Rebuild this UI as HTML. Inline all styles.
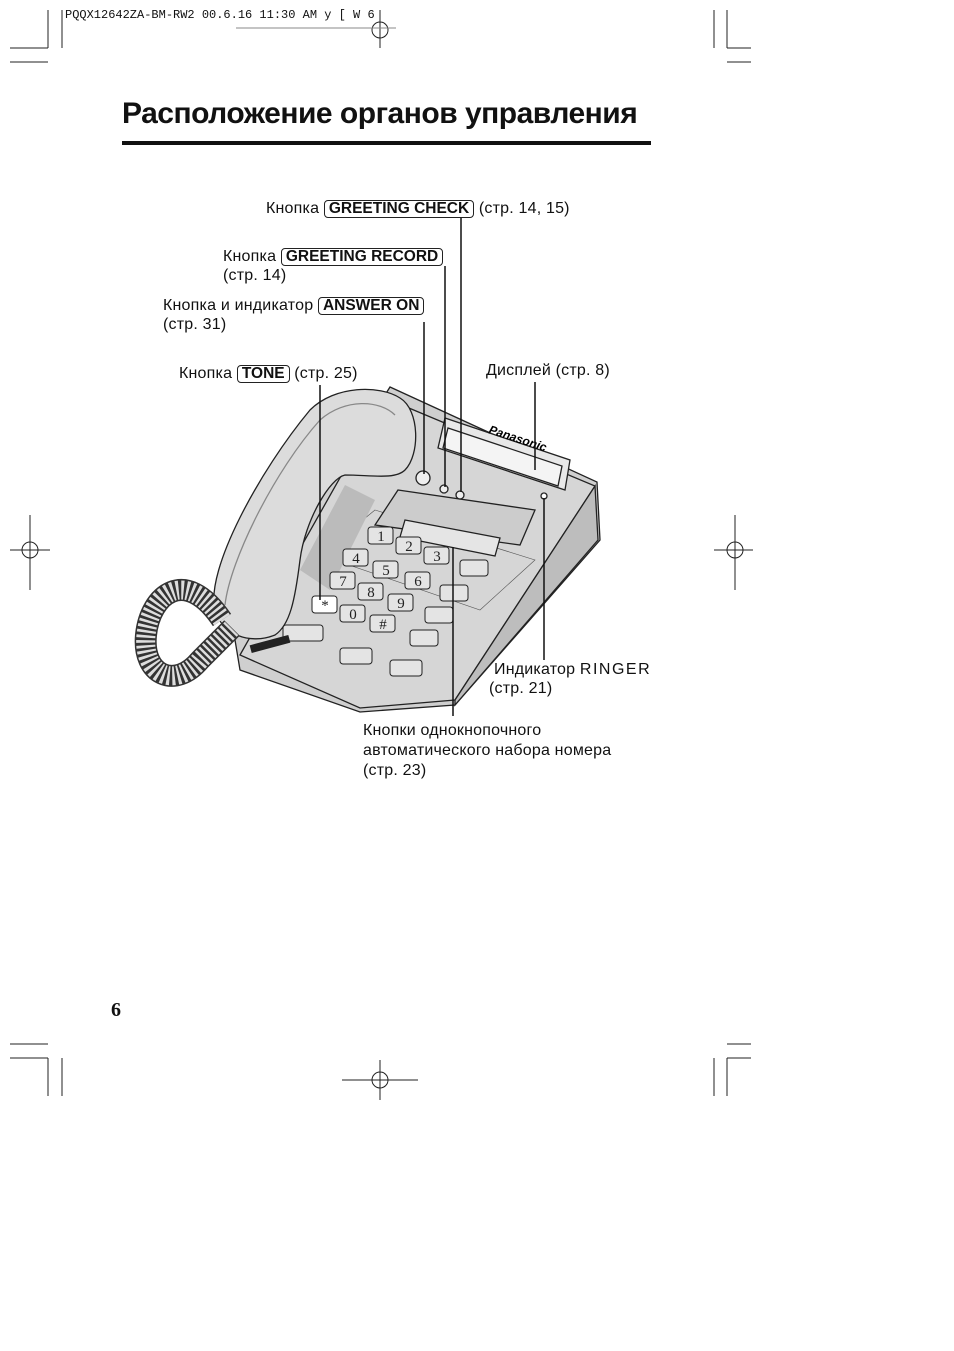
<!DOCTYPE html>
<html><head><meta charset="utf-8"><style>
body{margin:0;background:#fff;}
#p{position:relative;width:954px;height:1351px;overflow:hidden;font-family:"Liberation Sans",sans-serif;color:#111;}
.t{position:absolute;font-size:16px;letter-spacing:0.2px;white-space:nowrap;line-height:19px;}
.b{display:inline-block;border:1px solid #222;border-radius:4px;padding:0 4px;font-weight:bold;line-height:16px;font-size:15.5px;letter-spacing:0;}
</style></head><body><div id="p">
<svg width="954" height="1351" style="position:absolute;left:0;top:0" xmlns="http://www.w3.org/2000/svg">
<g stroke="#222" stroke-width="1" fill="none">
<line x1="48" y1="10" x2="48" y2="48"/><line x1="10" y1="48" x2="48" y2="48"/><line x1="10" y1="62" x2="48" y2="62"/><line x1="62" y1="10" x2="62" y2="48"/>
<line x1="714" y1="10" x2="714" y2="48"/><line x1="727" y1="10" x2="727" y2="48"/><line x1="727" y1="48" x2="751" y2="48"/><line x1="727" y1="62" x2="751" y2="62"/>
<line x1="48" y1="1058" x2="48" y2="1096"/><line x1="62" y1="1058" x2="62" y2="1096"/><line x1="10" y1="1044" x2="48" y2="1044"/><line x1="10" y1="1058" x2="48" y2="1058"/>
<line x1="714" y1="1058" x2="714" y2="1096"/><line x1="727" y1="1058" x2="727" y2="1096"/><line x1="727" y1="1044" x2="751" y2="1044"/><line x1="727" y1="1058" x2="751" y2="1058"/>
<circle cx="380" cy="30" r="8"/><line x1="380" y1="10" x2="380" y2="48"/><line x1="236" y1="28" x2="396" y2="28" stroke="#888"/>
<circle cx="30" cy="550" r="8"/><line x1="10" y1="550" x2="50" y2="550"/><line x1="30" y1="515" x2="30" y2="590"/>
<circle cx="735" cy="550" r="8"/><line x1="714" y1="550" x2="753" y2="550"/><line x1="735" y1="515" x2="735" y2="590"/>
<circle cx="380" cy="1080" r="8"/><line x1="342" y1="1080" x2="418" y2="1080"/><line x1="380" y1="1060" x2="380" y2="1100"/>
</g>
<rect x="122" y="141" width="529" height="4" fill="#111"/>
<g stroke="#222" stroke-width="1.3">
<path d="M240 670 L235 640 L385 395 L390 387 L597 482 L600 540 L455 705 L360 712 Z" fill="#cfcfcf"/>
<path d="M240 655 L385 398 L595 486 L455 700 L360 708 Z" fill="#d6d6d6"/>
<path d="M595 486 L598 540 L455 705 L455 700 Z" fill="#bdbdbd"/>
<path d="M445 418 L570 460 L565 490 L438 448 Z" fill="#e8e8e8"/>
<path d="M448 428 L562 466 L558 486 L443 448 Z" fill="#f4f4f4"/>
<path d="M375 510 L535 560 L480 610 L320 555 Z" fill="none" stroke="#555" stroke-width="0.6"/>
<path d="M398 490 L535 510 L520 545 L375 525 Z" fill="#ccc"/>
<path d="M405 520 L500 538 L495 556 L400 537 Z" fill="#e5e5e5"/>
<path d="M300 570 L345 485 L375 500 L330 590 Z" fill="#bbb" stroke="none"/>
<path d="M215 610 C205 570 260 470 310 410 C335 385 380 385 400 398 C420 410 420 455 405 470 C395 480 370 475 345 475 C330 478 305 520 300 560 C295 600 290 625 275 635 C250 645 222 635 215 610 Z" fill="#dcdcdc"/>
<path d="M225 605 C230 560 275 470 320 420 C345 398 380 400 395 415" fill="none" stroke="#888"/>
<path d="M222 620 C185 565 150 595 146 635 C142 675 175 690 200 660 C215 645 225 635 232 628" fill="none" stroke="#333" stroke-width="22"/>
<path d="M222 620 C185 565 150 595 146 635 C142 675 175 690 200 660 C215 645 225 635 232 628" fill="none" stroke="#ddd" stroke-width="19" stroke-dasharray="2.5 2.5"/>
<circle cx="423" cy="478" r="7" fill="#eee"/><circle cx="444" cy="489" r="4" fill="#eee"/><circle cx="460" cy="495" r="4" fill="#eee"/>
<circle cx="544" cy="496" r="3" fill="#fff"/>
</g>
<g stroke="#222" stroke-width="1" fill="#e4e4e4" font-family="Liberation Serif" font-size="15" text-anchor="middle">
<rect x="368" y="527" width="25" height="17" rx="3"/><text x="381" y="541" fill="#222" stroke="none">1</text>
<rect x="396" y="537" width="25" height="17" rx="3"/><text x="409" y="551" fill="#222" stroke="none">2</text>
<rect x="424" y="547" width="25" height="17" rx="3"/><text x="437" y="561" fill="#222" stroke="none">3</text>
<rect x="343" y="549" width="25" height="17" rx="3"/><text x="356" y="563" fill="#222" stroke="none">4</text>
<rect x="373" y="561" width="25" height="17" rx="3"/><text x="386" y="575" fill="#222" stroke="none">5</text>
<rect x="405" y="572" width="25" height="17" rx="3"/><text x="418" y="586" fill="#222" stroke="none">6</text>
<rect x="330" y="572" width="25" height="17" rx="3"/><text x="343" y="586" fill="#222" stroke="none">7</text>
<rect x="358" y="583" width="25" height="17" rx="3"/><text x="371" y="597" fill="#222" stroke="none">8</text>
<rect x="388" y="594" width="25" height="17" rx="3"/><text x="401" y="608" fill="#222" stroke="none">9</text>
<rect x="312" y="596" width="25" height="17" rx="3" fill="#fff"/><text x="325" y="610" fill="#222" stroke="none">*</text>
<rect x="340" y="605" width="25" height="17" rx="3"/><text x="353" y="619" fill="#222" stroke="none">0</text>
<rect x="370" y="615" width="25" height="17" rx="3"/><text x="383" y="629" fill="#222" stroke="none">#</text>
<rect x="460" y="560" width="28" height="16" rx="3"/><rect x="440" y="585" width="28" height="16" rx="3"/>
<rect x="425" y="607" width="28" height="16" rx="3"/><rect x="410" y="630" width="28" height="16" rx="3"/>
<rect x="340" y="648" width="32" height="16" rx="3"/><rect x="390" y="660" width="32" height="16" rx="3"/>
<rect x="283" y="625" width="40" height="16" rx="3"/>
</g>
<rect x="250" y="640" width="40" height="8" fill="#222" transform="rotate(-15 270 644)"/>
<text x="488" y="433" font-size="12" font-weight="bold" font-style="italic" transform="rotate(18 488 433)" font-family="Liberation Sans">Panasonic</text>
<g stroke="#111" stroke-width="1.5">
<line x1="461" y1="218" x2="461" y2="492"/><line x1="445" y1="266" x2="445" y2="487"/>
<line x1="424" y1="322" x2="424" y2="474"/><line x1="320" y1="385" x2="320" y2="600"/>
<line x1="535" y1="382" x2="535" y2="470"/><line x1="544" y1="498" x2="544" y2="660"/>
<line x1="453" y1="547" x2="453" y2="716"/>
</g>
</svg>
<div class="t" style="left:65px;top:6px;font-family:'Liberation Mono',monospace;font-size:12px;letter-spacing:0">PQQX12642ZA-BM-RW2 00.6.16 11:30 AM  y [ W 6</div>
<div class="t" style="left:122px;top:96px;font-size:30px;line-height:36px;font-weight:bold;letter-spacing:-0.5px">Расположение органов управления</div>
<div class="t" style="left:266px;top:199px">Кнопка <span class="b">GREETING CHECK</span> (стр. 14, 15)</div>
<div class="t" style="left:223px;top:247px">Кнопка <span class="b">GREETING RECORD</span><br>(стр. 14)</div>
<div class="t" style="left:163px;top:296px">Кнопка и индикатор <span class="b">ANSWER ON</span><br>(стр. 31)</div>
<div class="t" style="left:179px;top:364px">Кнопка <span class="b">TONE</span> (стр. 25)</div>
<div class="t" style="left:486px;top:361px">Дисплей (стр. 8)</div>
<div class="t" style="left:494px;top:660px">Индикатор <span style="letter-spacing:1.5px">RINGER</span><br><span style="margin-left:-5px">(стр. 21)</span></div>
<div class="t" style="left:363px;top:721px;line-height:20px">Кнопки однокнопочного<br>автоматического набора номера<br>(стр. 23)</div>
<div class="t" style="left:111px;top:1001px;font-family:'Liberation Serif',serif;font-weight:bold;font-size:20px">6</div>
</div></body></html>
